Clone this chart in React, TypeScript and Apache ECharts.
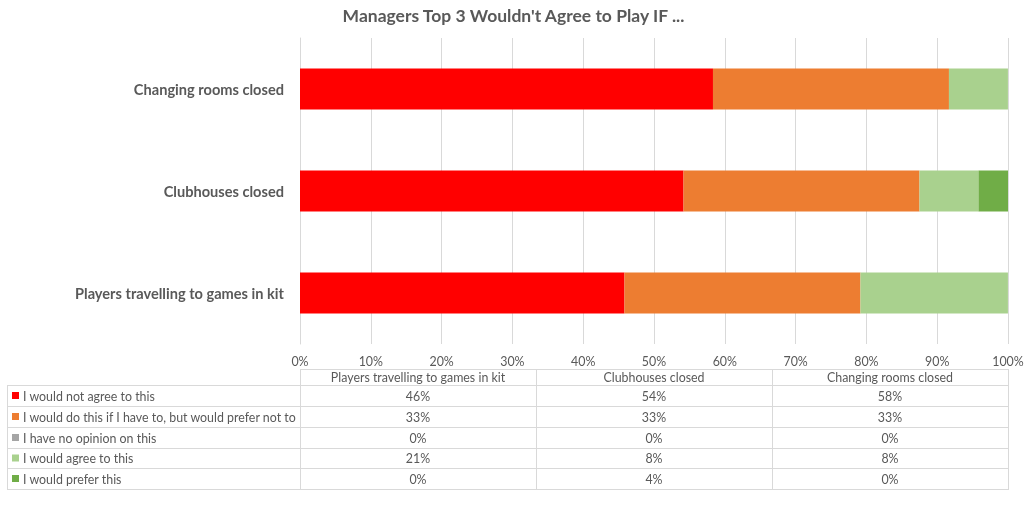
import React, { useEffect, useRef } from "react";
import * as echarts from "echarts";

const categories = ["Players travelling to games in kit", "Clubhouses closed", "Changing rooms closed"];
const seriesNames = [
  "I would not agree to this",
  "I would do this if I have to, but would prefer not to",
  "I have no opinion on this",
  "I would agree to this",
  "I would prefer this",
];
const notAgree = [45.83, 54.17, 58.33];
const doIfHaveTo = [33.33, 33.33, 33.33];
const noOpinion = [0, 0, 0];
const agree = [20.83, 8.33, 8.33];
const prefer = [0, 4.17, 0];
const seriesValues = [notAgree, doIfHaveTo, noOpinion, agree, prefer];
const colors = ["#FF0000", "#ED7D31", "#A5A5A5", "#A9D18E", "#70AD47"];
const xTicks = [0, 10, 20, 30, 40, 50, 60, 70, 80, 90, 100];

const FONT = "Lato, 'Open Sans', sans-serif";
const TXT = "#595959";
const LINE = "#d9d9d9";
const SMALL = 12.4;

export default function App() {
  const ref = useRef<HTMLDivElement>(null);
  useEffect(() => {
    const chart = echarts.init(ref.current!, null, { renderer: "svg" });
    const W = 1027;
    const gridLeft = 300;
    const gridRight = 19;
    const gridTop = 38;
    const gridBottom = 165;
    const plotW = W - gridLeft - gridRight;
    const colW = plotW / categories.length;
    const tableLeft = 7;
    const headerTop = 369;
    const rowYs = [385, 406, 427, 448, 468, 489];
    const tableRight = gridLeft + plotW;

    const graphics: any[] = [];
    graphics.push({ type: "line", shape: { x1: gridLeft, y1: headerTop + 0.5, x2: tableRight, y2: headerTop + 0.5 }, style: { stroke: LINE, lineWidth: 1 } });
    rowYs.forEach((y) => {
      graphics.push({ type: "line", shape: { x1: tableLeft, y1: y + 0.5, x2: tableRight, y2: y + 0.5 }, style: { stroke: LINE, lineWidth: 1 } });
    });
    graphics.push({ type: "line", shape: { x1: tableLeft + 0.5, y1: rowYs[0], x2: tableLeft + 0.5, y2: rowYs[rowYs.length - 1] + 1 }, style: { stroke: LINE, lineWidth: 1 } });
    for (let c = 0; c <= categories.length; c++) {
      const x = Math.round(gridLeft + c * colW) + 0.5;
      graphics.push({ type: "line", shape: { x1: x, y1: headerTop, x2: x, y2: rowYs[rowYs.length - 1] + 1 }, style: { stroke: LINE, lineWidth: 1 } });
    }
    categories.forEach((cat, c) => {
      graphics.push({
        type: "text",
        x: gridLeft + c * colW + colW / 2,
        y: (headerTop + rowYs[0]) / 2 + 0.5,
        style: { text: cat, fill: TXT, font: `${SMALL}px ${FONT}`, align: "center", verticalAlign: "middle" },
      });
    });
    seriesNames.forEach((name, r) => {
      const yMid = (rowYs[r] + rowYs[r + 1]) / 2 + 0.5;
      graphics.push({ type: "rect", shape: { x: 12, y: yMid - 4, width: 7, height: 7 }, style: { fill: colors[r] } });
      graphics.push({
        type: "text",
        x: 23,
        y: yMid,
        style: { text: name, fill: TXT, font: `${SMALL}px ${FONT}`, align: "left", verticalAlign: "middle" },
      });
      seriesValues[r].forEach((v, c) => {
        graphics.push({
          type: "text",
          x: gridLeft + c * colW + colW / 2,
          y: yMid,
          style: { text: `${Math.round(v)}%`, fill: TXT, font: `${SMALL}px ${FONT}`, align: "center", verticalAlign: "middle" },
        });
      });
    });

    chart.setOption({
      animation: false,
      title: {
        text: "Managers Top 3 Wouldn't Agree to Play IF ...",
        left: "center",
        top: 1,
        textStyle: { color: TXT, fontFamily: FONT, fontWeight: "bold", fontSize: 17.5 },
      },
      grid: { left: gridLeft, right: gridRight, top: gridTop, bottom: gridBottom, containLabel: false },
      xAxis: {
        type: "value",
        min: 0,
        max: 100,
        interval: 10,
        axisLine: { show: false },
        axisTick: { show: false },
        splitLine: { show: true, lineStyle: { color: LINE, width: 1 } },
        axisLabel: {
          color: TXT,
          fontFamily: FONT,
          fontSize: SMALL,
          margin: 11,
          formatter: (v: number) => (xTicks.includes(v) ? `${v}%` : ""),
        },
      },
      yAxis: {
        type: "category",
        data: categories,
        axisLine: { show: true, lineStyle: { color: LINE } },
        axisTick: { show: false },
        axisLabel: { color: TXT, fontFamily: FONT, fontSize: 14.6, fontWeight: "bold", margin: 16, padding: [0, 0, 2, 0] },
      },
      series: seriesNames.map((name, i) => ({
        name,
        type: "bar",
        stack: "total",
        barWidth: 41,
        itemStyle: { color: colors[i] },
        data: seriesValues[i],
      })),
      graphic: graphics,
    });
    return () => chart.dispose();
  }, []);
  return <div ref={ref} style={{ position: "fixed", left: 0, top: 0, width: 1027, height: 509 }} />;
}
